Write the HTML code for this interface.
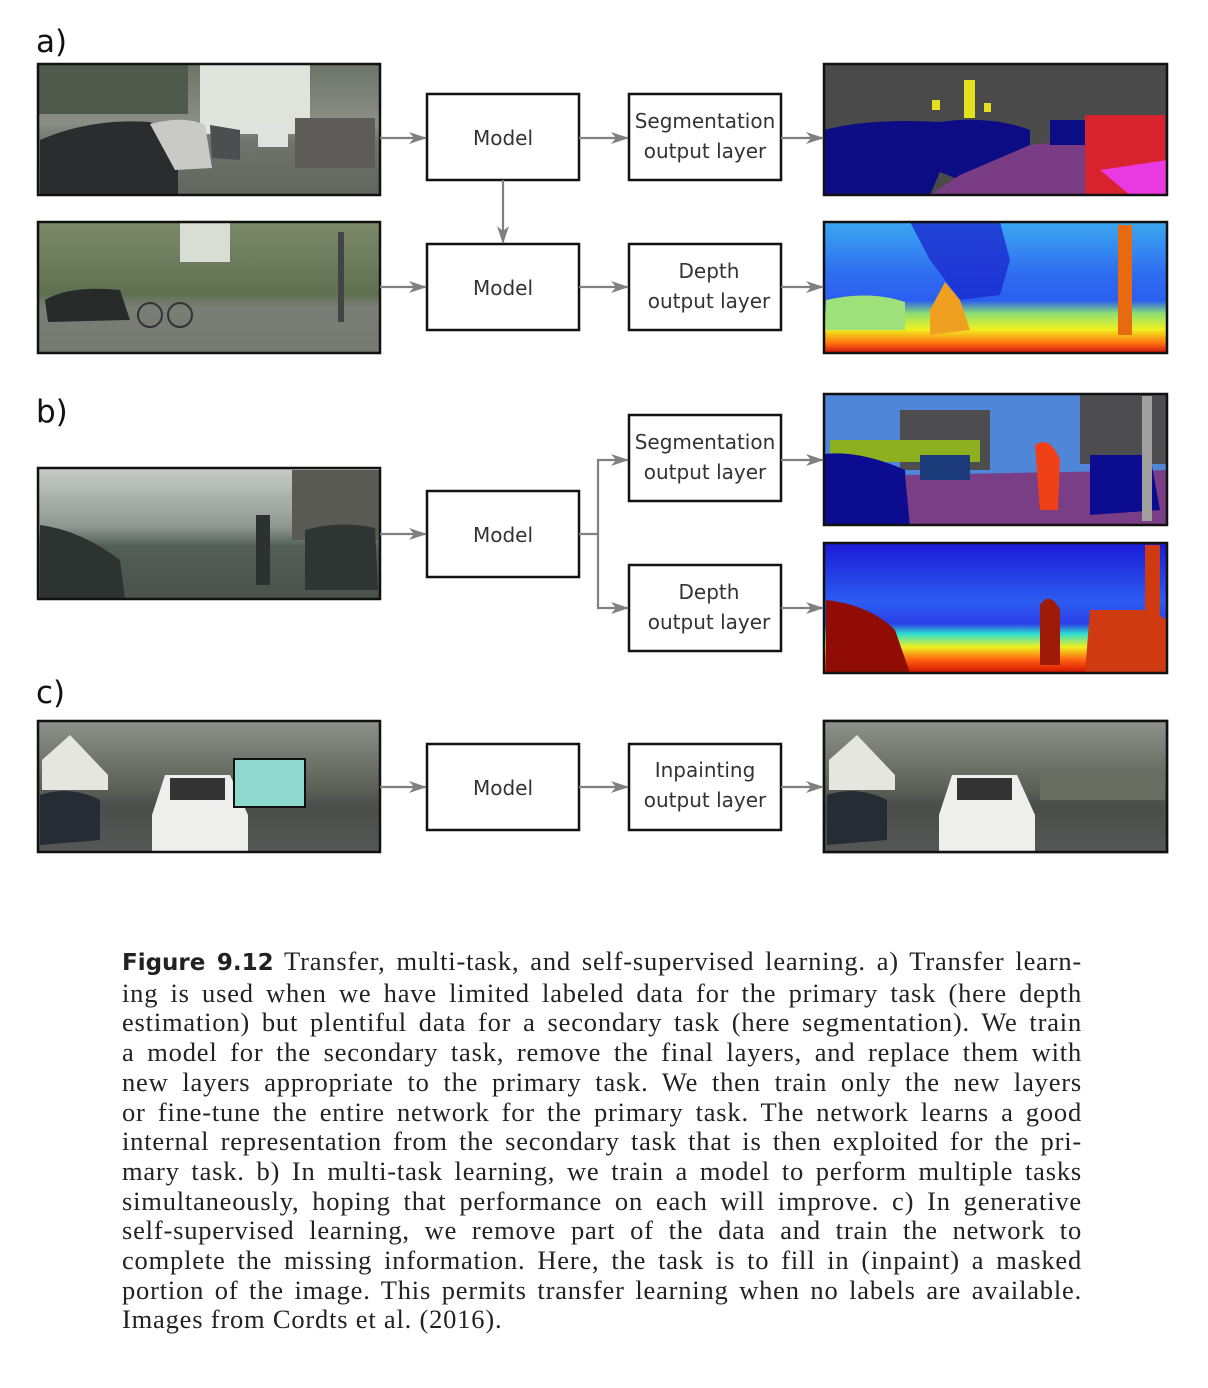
<!DOCTYPE html>
<html><head><meta charset="utf-8"><style>
html,body{margin:0;padding:0;background:#fff;}
body{width:1208px;height:1388px;position:relative;overflow:hidden;}
svg{position:absolute;left:0;top:0;}
.cap{position:absolute;left:122px;width:960px;top:947px;font-family:"Liberation Serif",serif;font-size:26.5px;letter-spacing:0.8px;color:#222;line-height:29.7px;}
.cap div{text-align:justify;text-align-last:justify;white-space:nowrap;}
.cap div.l{text-align-last:left;}
.cap b{font-family:"DejaVu Sans","Liberation Sans",sans-serif;font-size:23px;letter-spacing:0;}
</style></head><body>
<svg width="1208" height="940" viewBox="0 0 1208 940" xmlns="http://www.w3.org/2000/svg">
<defs>
<marker id="ar" markerWidth="18" markerHeight="12" refX="17" refY="6" orient="auto" markerUnits="userSpaceOnUse">
<path d="M0,0 L18,6 L0,12 L5,6 Z" fill="#808080"/></marker>
<linearGradient id="st" x1="0" y1="0" x2="0" y2="1"><stop offset="0" stop-color="#6d7468"/><stop offset="0.45" stop-color="#8a8f86"/><stop offset="0.6" stop-color="#6f746c"/><stop offset="1" stop-color="#60665e"/></linearGradient>
<linearGradient id="st2" x1="0" y1="0" x2="0" y2="1"><stop offset="0" stop-color="#7c8a6a"/><stop offset="0.55" stop-color="#5f7050"/><stop offset="0.65" stop-color="#7a7e76"/><stop offset="1" stop-color="#757a70"/></linearGradient>
<linearGradient id="st3" x1="0" y1="0" x2="0" y2="1"><stop offset="0" stop-color="#c8ccc6"/><stop offset="0.45" stop-color="#8d9790"/><stop offset="0.6" stop-color="#535d58"/><stop offset="1" stop-color="#4a524d"/></linearGradient>
<linearGradient id="st4" x1="0" y1="0" x2="0" y2="1"><stop offset="0" stop-color="#8c918a"/><stop offset="0.5" stop-color="#5e6359"/><stop offset="0.65" stop-color="#4b4d4b"/><stop offset="1" stop-color="#555756"/></linearGradient>
<linearGradient id="dp" x1="0" y1="0" x2="0" y2="1"><stop offset="0" stop-color="#3aa8f0"/><stop offset="0.4" stop-color="#2f6cf0"/><stop offset="0.6" stop-color="#2a5ff0"/><stop offset="0.7" stop-color="#8ee070"/><stop offset="0.82" stop-color="#f0f020"/><stop offset="0.92" stop-color="#ff7a10"/><stop offset="1" stop-color="#d01010"/></linearGradient>
<linearGradient id="dp2" x1="0" y1="0" x2="0" y2="1"><stop offset="0" stop-color="#1a1ad8"/><stop offset="0.45" stop-color="#2c5cf0"/><stop offset="0.62" stop-color="#2a40e8"/><stop offset="0.7" stop-color="#30e0d0"/><stop offset="0.8" stop-color="#f0f020"/><stop offset="0.9" stop-color="#ff6010"/><stop offset="1" stop-color="#d01000"/></linearGradient>
</defs>

<g font-family="DejaVu Sans, Liberation Sans, sans-serif" font-size="31" fill="#111">
<text x="36" y="52">a)</text><text x="36" y="422">b)</text><text x="36" y="703">c)</text></g>

<g><rect x="38" y="64" width="342" height="131" fill="url(#st)"/>
<rect x="38" y="64" width="150" height="50" fill="#4f5a4c"/>
<rect x="200" y="64" width="110" height="70" fill="#dfe3dc"/>
<path d="M40,140 Q90,118 150,122 Q175,135 178,170 L178,195 L40,195Z" fill="#2a2d2d"/>
<path d="M150,124 Q185,115 205,125 L212,168 L175,170Z" fill="#c9cac7"/>
<path d="M210,125 L240,130 L240,160 L212,158Z" fill="#4c4f4f"/>
<rect x="258" y="125" width="30" height="22" fill="#e0e2df"/>
<rect x="295" y="118" width="80" height="50" fill="#5e5c58"/></g>
<g><rect x="38" y="222" width="342" height="131" fill="url(#st2)"/>
<rect x="180" y="222" width="50" height="40" fill="#d8ddd5"/>
<path d="M45,300 Q70,285 120,290 L130,320 L48,322Z" fill="#262a28"/>
<circle cx="150" cy="315" r="12" fill="none" stroke="#333" stroke-width="2"/><circle cx="180" cy="315" r="12" fill="none" stroke="#333" stroke-width="2"/>
<rect x="338" y="232" width="6" height="90" fill="#444"/></g>
<g><rect x="38" y="468" width="342" height="131" fill="url(#st3)"/>
<path d="M40,525 Q80,530 120,560 L125,599 L40,599Z" fill="#2d3331"/>
<rect x="292" y="470" width="88" height="70" fill="#5a5a55"/>
<path d="M305,530 Q340,520 375,528 L378,590 L305,590Z" fill="#2f3533"/>
<rect x="256" y="515" width="14" height="70" fill="#2d3230"/></g>
<g><rect x="38" y="721" width="342" height="131" fill="url(#st4)"/>
<path d="M42,760 L70,735 L108,775 L108,790 L42,790Z" fill="#e6e6e0"/>
<path d="M40,795 Q70,785 100,800 L100,840 L40,845Z" fill="#262c33"/>
<path d="M165,775 L230,775 L248,815 L248,852 L152,852 L152,815Z" fill="#eeeeec"/>
<rect x="170" y="778" width="55" height="22" fill="#333"/>
<rect x="234" y="759" width="71" height="48" fill="#8fd8d0" stroke="#111" stroke-width="2"/></g>

<g><rect x="824" y="64" width="343" height="131" fill="#4a4a4a"/>
<path d="M824,130 Q870,118 940,122 L945,160 L930,195 L824,195Z" fill="#0c0c84"/>
<path d="M940,122 Q990,115 1030,130 L1030,160 L960,180 L935,170Z" fill="#0c0c84"/>
<path d="M930,195 L960,175 L1030,145 L1080,140 L1140,190 L1140,195Z" fill="#7b3c86"/>
<rect x="1050" y="120" width="35" height="25" fill="#0c0c84"/>
<rect x="1085" y="115" width="80" height="80" fill="#d8222d"/>
<path d="M1100,170 L1167,160 L1167,195 L1130,195Z" fill="#e83ae0"/>
<rect x="964" y="80" width="11" height="38" fill="#e4e020"/><rect x="932" y="100" width="8" height="10" fill="#e4e020"/><rect x="984" y="103" width="7" height="9" fill="#e4e020"/></g>
<g><rect x="824" y="222" width="343" height="131" fill="url(#dp)"/>
<path d="M910,222 L1000,222 L1010,260 L1000,295 L960,300 L930,260Z" fill="#1b2ad0" opacity="0.8"/>
<path d="M930,310 L945,282 L960,300 L970,330 L930,335Z" fill="#f0a020"/>
<rect x="1118" y="225" width="14" height="110" fill="#e86a10"/>
<path d="M826,300 Q870,290 905,302 L905,330 L826,330Z" fill="#9ee07a"/></g>
<g><rect x="824" y="394" width="343" height="131" fill="#4f86d8"/>
<rect x="900" y="410" width="90" height="60" fill="#4d4d50"/><rect x="1080" y="394" width="87" height="70" fill="#4d4d50"/>
<path d="M830,440 L980,440 L980,462 L830,462Z" fill="#8cb020"/>
<path d="M824,454 Q860,450 905,470 L910,525 L824,525Z" fill="#0c0c90"/>
<path d="M905,475 L1167,470 L1167,525 L910,525Z" fill="#7a3e86"/>
<path d="M1090,455 L1150,455 L1160,510 L1090,515Z" fill="#0c0c90"/>
<path d="M1035,445 Q1050,435 1060,460 L1058,510 L1040,510Z" fill="#f04018"/>
<rect x="1142" y="396" width="10" height="125" fill="#a0a0a0"/>
<rect x="920" y="455" width="50" height="25" fill="#1b3a7a"/></g>
<g><rect x="824" y="543" width="343" height="130" fill="url(#dp2)"/>
<path d="M826,600 Q870,605 895,630 L910,673 L826,673Z" fill="#900c04"/>
<path d="M1040,605 Q1050,590 1060,610 L1060,665 L1040,665Z" fill="#a01a08"/>
<path d="M1090,610 L1150,610 L1167,620 L1167,673 L1085,673Z" fill="#d03a10"/>
<rect x="1145" y="545" width="15" height="70" fill="#d03a10"/></g>

<g fill="none" stroke="#111" stroke-width="2.5">
<rect x="38" y="64" width="342" height="131"/><rect x="38" y="222" width="342" height="131"/>
<rect x="38" y="468" width="342" height="131"/><rect x="38" y="721" width="342" height="131"/>
<rect x="824" y="64" width="343" height="131"/><rect x="824" y="222" width="343" height="131"/>
<rect x="824" y="394" width="343" height="131"/><rect x="824" y="543" width="343" height="130"/>
<rect x="824" y="721" width="343" height="131"/></g>
<g><rect x="825" y="722" width="341" height="129" fill="url(#st4)"/>
<path d="M829,760 L857,735 L895,775 L895,790 L829,790Z" fill="#e6e6e0"/>
<path d="M827,795 Q857,785 887,800 L887,840 L827,845Z" fill="#262c33"/>
<path d="M952,775 L1017,775 L1035,815 L1035,851 L939,851 L939,815Z" fill="#eeeeec"/>
<rect x="957" y="778" width="55" height="22" fill="#333"/>
<rect x="1040" y="770" width="125" height="30" fill="#6a6d62"/>
<rect x="824" y="721" width="343" height="131" fill="none" stroke="#111" stroke-width="2.5"/></g>

<g fill="#fff" stroke="#111" stroke-width="2.5">
<rect x="427" y="94" width="152" height="86"/><rect x="629" y="94" width="152" height="86"/>
<rect x="427" y="244" width="152" height="86"/><rect x="629" y="244" width="152" height="86"/>
<rect x="427" y="491" width="152" height="86"/><rect x="629" y="415" width="152" height="86"/>
<rect x="629" y="565" width="152" height="86"/>
<rect x="427" y="744" width="152" height="86"/><rect x="629" y="744" width="152" height="86"/></g>

<g font-family="DejaVu Sans, Liberation Sans, sans-serif" font-size="20" fill="#333" text-anchor="middle">
<text x="503" y="145">Model</text><text x="503" y="295">Model</text><text x="503" y="542">Model</text><text x="503" y="795">Model</text>
<text x="705" y="128">Segmentation</text><text x="705" y="158">output layer</text>
<text x="709" y="278">Depth</text><text x="709" y="308">output layer</text>
<text x="705" y="449">Segmentation</text><text x="705" y="479">output layer</text>
<text x="709" y="599">Depth</text><text x="709" y="629">output layer</text>
<text x="705" y="777">Inpainting</text><text x="705" y="807">output layer</text></g>

<g stroke="#808080" stroke-width="2.2" fill="none" marker-end="url(#ar)">
<line x1="380" y1="138" x2="426" y2="138"/><line x1="579" y1="138" x2="628" y2="138"/><line x1="781" y1="138" x2="823" y2="138"/>
<line x1="503" y1="180" x2="503" y2="243"/>
<line x1="380" y1="287" x2="426" y2="287"/><line x1="579" y1="287" x2="628" y2="287"/><line x1="781" y1="287" x2="823" y2="287"/>
<line x1="380" y1="534" x2="426" y2="534"/>
<polyline points="579,534 598,534 598,460 628,460"/><polyline points="598,534 598,608 628,608"/>
<line x1="781" y1="460" x2="823" y2="460"/><line x1="781" y1="608" x2="823" y2="608"/>
<line x1="380" y1="787" x2="426" y2="787"/><line x1="579" y1="787" x2="628" y2="787"/><line x1="781" y1="787" x2="823" y2="787"/>
</g>
</svg>
<div class="cap">
<div><b>Figure 9.12</b> Transfer, multi-task, and self-supervised learning. a) Transfer learn-</div>
<div>ing is used when we have limited labeled data for the primary task (here depth</div>
<div>estimation) but plentiful data for a secondary task (here segmentation). We train</div>
<div>a model for the secondary task, remove the final layers, and replace them with</div>
<div>new layers appropriate to the primary task. We then train only the new layers</div>
<div>or fine-tune the entire network for the primary task. The network learns a good</div>
<div>internal representation from the secondary task that is then exploited for the pri-</div>
<div>mary task. b) In multi-task learning, we train a model to perform multiple tasks</div>
<div>simultaneously, hoping that performance on each will improve. c) In generative</div>
<div>self-supervised learning, we remove part of the data and train the network to</div>
<div>complete the missing information. Here, the task is to fill in (inpaint) a masked</div>
<div>portion of the image. This permits transfer learning when no labels are available.</div>
<div class="l">Images from Cordts et al. (2016).</div>
</div>
</body></html>
